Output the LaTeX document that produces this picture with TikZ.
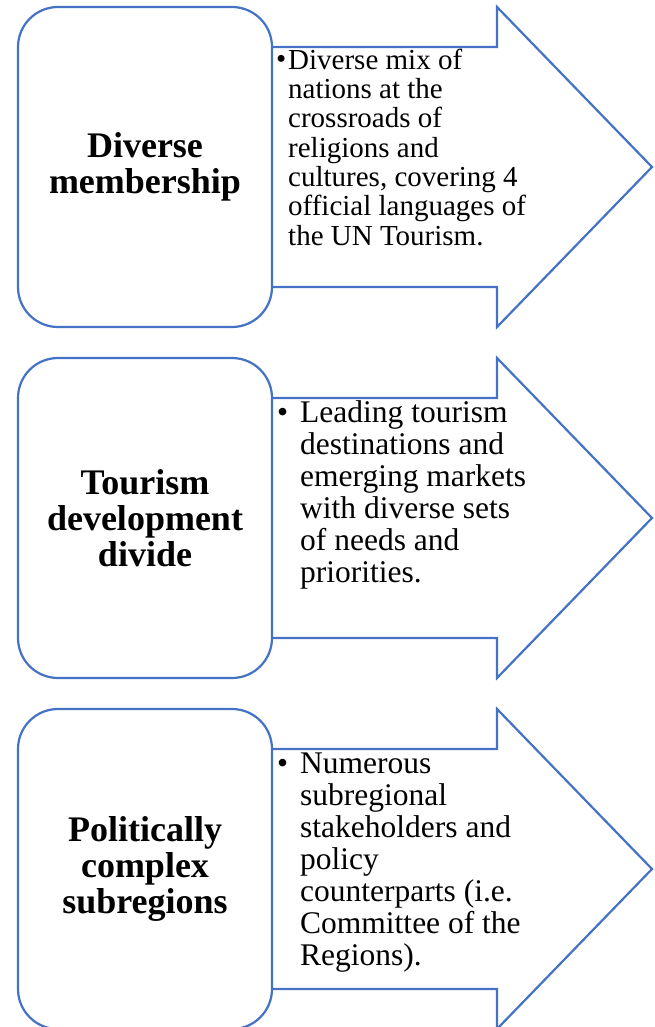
\documentclass[tikz,border=0pt]{standalone}
\usepackage{fontspec}
\setmainfont{Liberation Serif}
\definecolor{wordblue}{HTML}{4472C4}
\begin{document}
\begin{tikzpicture}[x=1pt,y=-1pt,
    outline/.style={draw=wordblue,line width=2.2pt,line join=miter},
    titlebox/.style={outline,fill=white,rounded corners=40pt,minimum width=254pt,minimum height=320pt,
      align=center,inner sep=0pt,font=\fontsize{36}{36}\selectfont\bfseries},
    smalltext/.style={anchor=north west,align=left,inner sep=0pt,font=\fontsize{29}{29.3}\selectfont},
    bigtext/.style={anchor=north west,align=left,inner sep=0pt,font=\fontsize{31.5}{32}\selectfont},
    dot/.style={anchor=base west,inner sep=0pt}]
    \useasboundingbox (0,0) rectangle (654,1027);

    % the three arrows
    \foreach \t in {7,358,709}
      \draw [outline] (272,\t+40)--(497,\t+40)--(497,\t)--(652,\t+160)--(497,\t+320)--(497,\t+280)--(272,\t+280);

    % boxes on the left
    \node [titlebox] (member) at (145,167) {Diverse\\membership};
    \node [titlebox] (divide) at (145,518) {Tourism\\development\\divide};
    \node [titlebox] (subreg) at (145,869) {Politically\\complex\\subregions};

    % texts in the arrows
    \node [smalltext] (mix) at (288,48) {\rule{0pt}{21pt}Diverse mix of\\nations at the\\crossroads of\\religions and\\cultures, covering 4\\official languages of\\the UN Tourism.};
    \node [dot,font=\fontsize{29}{29.3}\selectfont] (dot1) at (276,69) {•};

    \node [bigtext] (lead) at (300,399) {\rule{0pt}{23pt}Leading tourism\\destinations and\\emerging markets\\with diverse sets\\of needs and\\priorities.};
    \node [dot,font=\fontsize{31.5}{32}\selectfont] (dot2) at (277,422) {•};

    \node [bigtext] (numer) at (300,750) {\rule{0pt}{23pt}Numerous\\subregional\\stakeholders and\\policy\\counterparts (i.e.\\Committee of the\\Regions).};
    \node [dot,font=\fontsize{31.5}{32}\selectfont] (dot3) at (277,773) {•};
\end{tikzpicture}
\end{document}
